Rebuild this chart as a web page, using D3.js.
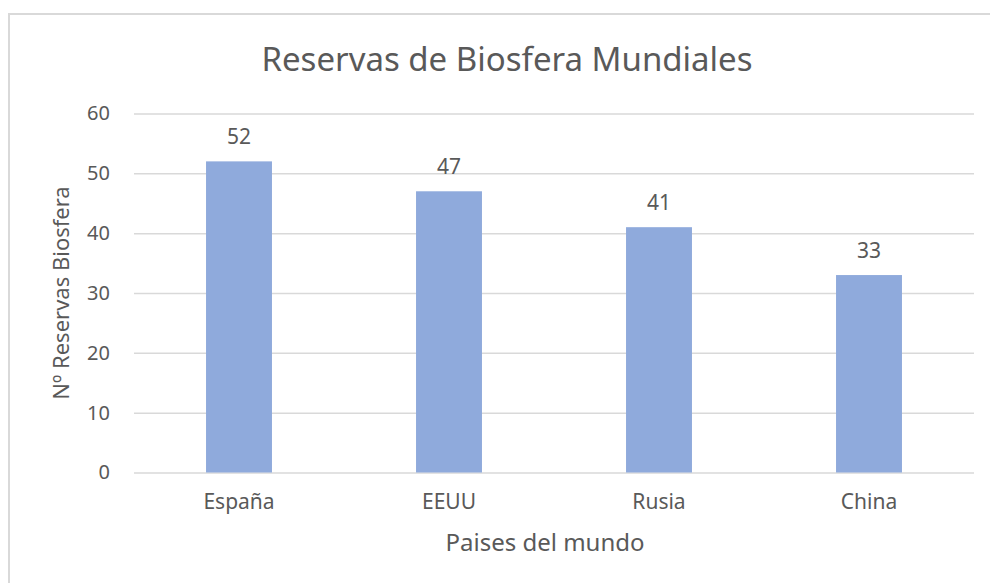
<!DOCTYPE html>
<html>
<head>
<meta charset="utf-8">
<script src="https://cdn.jsdelivr.net/npm/d3@7"></script>
<style>
  body { margin: 0; background: #fff; }
  text { font-family: "Noto Sans", "Open Sans", sans-serif; fill: #595959; }
</style>
</head>
<body>
<div id="chart"></div>
<script>
const width = 990;
const height = 583;

// data
const paises = ['España', 'EEUU', 'Rusia', 'China'];
const reservas = [52, 47, 41, 33];
const yTicks = [0, 10, 20, 30, 40, 50, 60];

const plot = { left: 134, right: 974, top: 113.5, bottom: 472.5 };

const x = d3.scaleBand()
    .domain(paises)
    .range([plot.left, plot.right])
    .paddingInner(0.686)
    .paddingOuter(0.343);

const y = d3.scaleLinear()
    .domain([0, 60])
    .range([plot.bottom, plot.top]);

const svg = d3.select('#chart')
    .append('svg')
    .attr('width', width)
    .attr('height', height);

// chart area border (only left/top visible in the frame)
svg.append('rect')
    .attr('x', 9)
    .attr('y', 14)
    .attr('width', 1000)
    .attr('height', 600)
    .style('fill', 'none')
    .style('stroke', '#d9d9d9')
    .style('stroke-width', 2);

// title
svg.append('text')
    .attr('x', 507)
    .attr('y', 71)
    .attr('text-anchor', 'middle')
    .style('font-size', '33px')
    .text('Reservas de Biosfera Mundiales');

// gridlines + y labels
const yAxis = d3.axisLeft(y)
    .tickValues(yTicks)
    .tickSize(-(plot.right - plot.left))
    .tickPadding(24);

const gy = svg.append('g')
    .attr('transform', `translate(${plot.left},0)`)
    .call(yAxis);
gy.select('.domain').remove();
gy.selectAll('.tick line').style('stroke', '#d9d9d9').style('stroke-width', 1.5);
gy.selectAll('.tick text')
    .style('font-size', '20px')
    .style('font-family', '"Noto Sans", sans-serif')
    .attr('fill', '#595959');

// bars
svg.append('g')
    .selectAll('rect')
    .data(reservas)
    .enter()
    .append('rect')
    .attr('x', (d, i) => x(paises[i]))
    .attr('y', d => y(d))
    .attr('width', x.bandwidth())
    .attr('height', d => y(0) - y(d))
    .style('fill', '#8faadc');

// data labels
svg.append('g')
    .selectAll('text')
    .data(reservas)
    .enter()
    .append('text')
    .attr('x', (d, i) => x(paises[i]) + x.bandwidth() / 2)
    .attr('y', d => y(d) - 17)
    .attr('text-anchor', 'middle')
    .style('font-size', '21px')
    .text(d => d);

// x axis (category labels)
const gx = svg.append('g')
    .attr('transform', `translate(0,${plot.bottom})`)
    .call(d3.axisBottom(x).tickSize(0).tickPadding(22));
gx.select('.domain').remove();
gx.selectAll('.tick text')
    .style('font-size', '21px')
    .style('font-family', '"Noto Sans", sans-serif')
    .attr('fill', '#595959');

// axis titles
svg.append('text')
    .attr('x', 545)
    .attr('y', 551)
    .attr('text-anchor', 'middle')
    .style('font-size', '24px')
    .text('Paises del mundo');

svg.append('text')
    .attr('transform', `translate(69,293) rotate(-90)`)
    .attr('text-anchor', 'middle')
    .style('font-size', '22px')
    .text('Nº Reservas Biosfera');
</script>
</body>
</html>
